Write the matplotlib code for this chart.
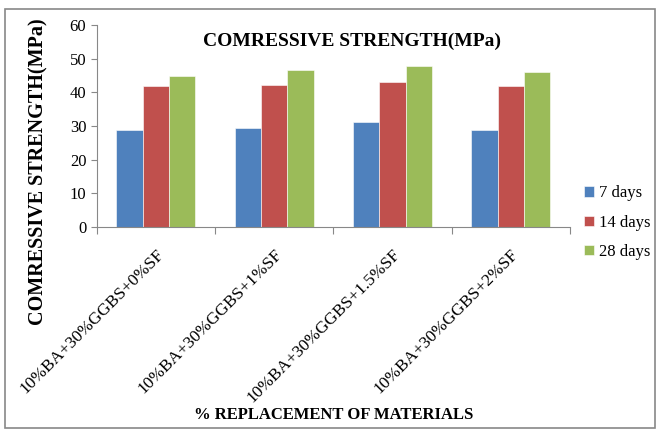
import numpy as np
import matplotlib
matplotlib.use("Agg")
import matplotlib.pyplot as plt
from matplotlib.patches import Rectangle

# Compressive strength (MPa) of the blended mixes
mixes = ["10%BA+30%GGBS+0%SF", "10%BA+30%GGBS+1%SF",
         "10%BA+30%GGBS+1.5%SF", "10%BA+30%GGBS+2%SF"]
days_7 = [28.8, 29.5, 31.1, 28.8]
days_14 = [41.9, 42.3, 43.1, 41.9]
days_28 = [44.9, 46.6, 47.8, 46.0]
series_names = ["7 days", "14 days", "28 days"]
colors = ["#4F81BD", "#C0504D", "#9BBB59"]

plt.rcParams['font.family'] = ['Liberation Serif', 'DejaVu Serif']

fig = plt.figure(figsize=(6.58, 4.30), dpi=100)
ax = fig.add_axes([0.147, 0.472, 0.719, 0.470])

# outer chart border
fig.patches.append(Rectangle((0.007, 0.005), 0.988, 0.975, transform=fig.transFigure,
                             fill=False, edgecolor="#888888", linewidth=1.2))

x = np.arange(len(mixes))
width = 1 / 4.5  # 150% gap width
for i, (vals, name, c) in enumerate(zip([days_7, days_14, days_28], series_names, colors)):
    ax.bar(x + (i - 1) * width, vals, width, color=c, label=name,
           edgecolor="white", linewidth=0.4)

ax.set_xlim(-0.5, len(mixes) - 0.5)
ax.set_ylim(0, 60)
ax.set_yticks(range(0, 61, 10))
ax.tick_params(axis='y', labelsize=12, length=4, color="#888888", direction='out')

# x ticks sit at category boundaries, labels under the centres
ax.set_xticks(np.arange(-0.5, len(mixes)), minor=False)
ax.set_xticklabels([])
ax.tick_params(axis='x', length=5, color="#888888")
ax.set_xticks(x, minor=True)
ax.set_xticklabels(mixes, minor=True, rotation=45, ha='right', va='top',
                   rotation_mode='anchor', fontsize=12.5)
ax.tick_params(axis='x', which='minor', length=0, pad=14)

for s in ['top', 'right']:
    ax.spines[s].set_visible(False)
for s in ['left', 'bottom']:
    ax.spines[s].set_color("#888888")

fig.text(0.535, 0.905, "COMRESSIVE STRENGTH(MPa)", ha='center', va='center',
         fontsize=14, fontweight='bold')
fig.text(0.058, 0.6, "COMRESSIVE STRENGTH(MPa)", ha='center', va='center',
         rotation=90, fontsize=14.5, fontweight='bold')
fig.text(0.507, 0.035, "% REPLACEMENT OF MATERIALS", ha='center', va='center',
         fontsize=12, fontweight='bold')

ax.legend(loc='center left', bbox_to_anchor=(0.865, 0.482), bbox_transform=fig.transFigure,
          frameon=False, fontsize=12, handlelength=0.6, handleheight=0.6,
          handletextpad=0.3, labelspacing=0.8)

fig.savefig("out.png", dpi=100)
